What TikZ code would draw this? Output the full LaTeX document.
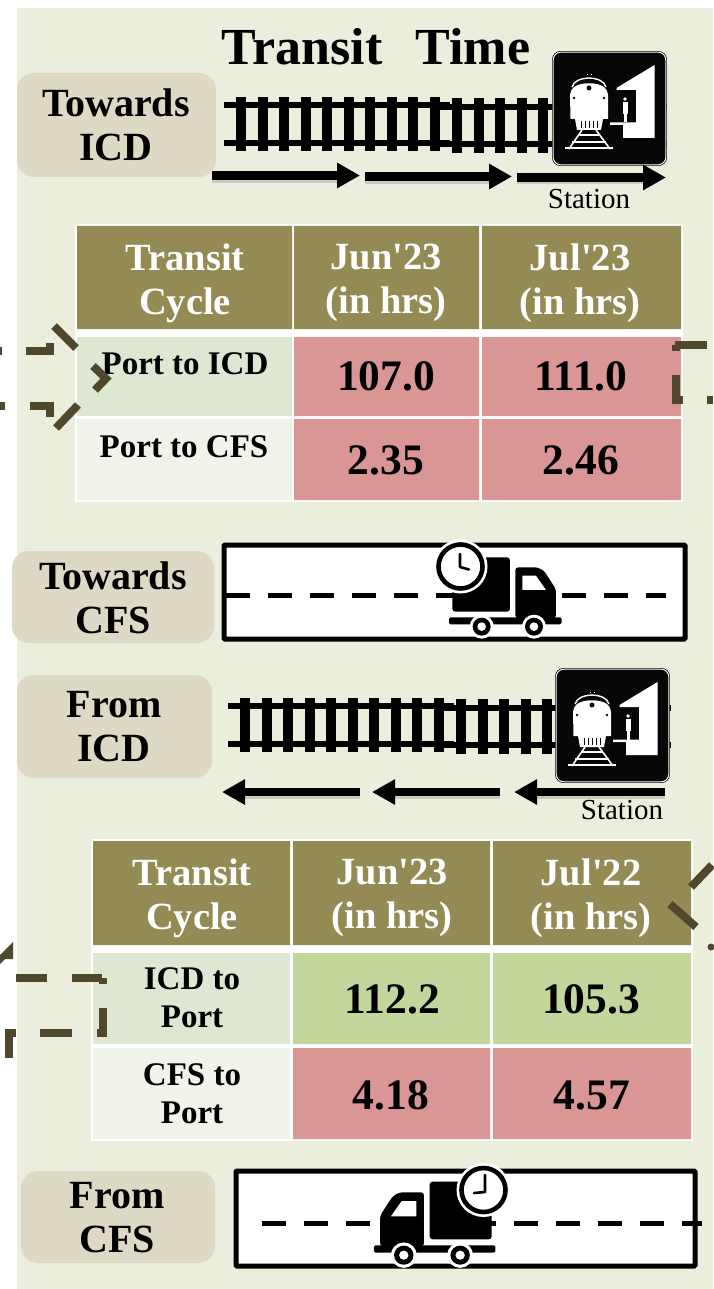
\documentclass[tikz,border=0pt]{standalone}
\usepackage{fontspec}
\setmainfont{Liberation Serif}[Ligatures=TeXOff]
\usetikzlibrary{arrows.meta}
\definecolor{panel}{HTML}{EBEEDD}
\definecolor{lab}{HTML}{DDD9C4}
\definecolor{head}{HTML}{948A54}
\definecolor{rowa}{HTML}{DEE7D1}
\definecolor{rowb}{HTML}{EFF3E9}
\definecolor{pink}{HTML}{D99694}
\definecolor{grn}{HTML}{C3D69B}
\definecolor{dashc}{HTML}{4F482C}
\definecolor{signk}{HTML}{060808}
\newcommand{\fsz}[2]{\fontsize{#1}{#2}\selectfont}
\tikzset{
  x=1pt,y=-1pt,
  labelbox/.style={fill=lab,rounded corners=17pt},
  labeltext/.style={font=\bfseries\fsz{40}{44},align=center,inner sep=0pt,text=black},
  headtext/.style={font=\bfseries\fsz{38.5}{44},align=center,inner sep=0pt,text=white},
  rowtext/.style={font=\bfseries\fsz{33}{38},align=center,inner sep=0pt,text=black},
  numtext/.style={font=\bfseries\fsz{43.5}{46},inner sep=0pt,text=black},
  stationtext/.style={font=\fsz{29}{30},inner sep=0pt,text=black},
  dashpiece/.style={draw=dashc,line width=8pt},
  flowarrow/.style={draw=black,line width=8.5pt,-{Triangle[length=23pt,width=24pt]},shorten >=0pt},
  arrowshade/.style={draw=black!45,opacity=.35,line width=8.5pt},
  roadline/.style={draw=black,line width=5pt,dash pattern=on 24pt off 18pt},
  roadbox/.style={draw=black,fill=white,line width=5pt,rounded corners=1pt},
  railline/.style={draw=black,line width=6pt},
  tieline/.style={draw=black,line width=10pt},
}
% railway: rails and sleepers
\newcommand{\railway}[2]{%
\begin{scope}[shift={(#1,#2)}]
  \draw[railline] (224,105) -- (450,105) (224,143) -- (450,143);
  \draw[railline] (440,107) -- (667,107) (440,144) -- (667,144);
  \foreach \t in {241,262.5,284,305.5,327,348.5,370,391.5,413,434.5}
    \draw[tieline] (\t,97) -- (\t,151);
  \foreach \t in {457,478.5,500,521.5,543}
    \draw[tieline] (\t,98) -- (\t,153);
\end{scope}}
% station sign, local px from sign's top-left corner
\newcommand{\stationsign}[2]{%
\begin{scope}[shift={(#1,#2)}]
  \draw[white,fill=signk,line width=1.2pt,rounded corners=8pt] (0,0) rectangle (113,113);
  \draw[signk,line width=.6pt,rounded corners=8pt] (-.6,-.6) rectangle (113.6,113.6);
  % train
  \fill[white] (17.5,67) -- (17,43) .. controls (18,38) and (19,37) .. (21,35) .. controls (28,30) and (44,30) .. (51,35) .. controls (53,37) and (54,38) .. (55,43) -- (55,67) -- cycle;
  \draw[white,line width=1.4pt] (19,35) .. controls (21,29) and (27,26.5) .. (36,26) .. controls (45,26.5) and (51,29) .. (53,35);
  \draw[white,line width=1pt] (33.5,23) -- (34.5,23) (37.5,23) -- (38.5,23);
  \fill[signk] (36,36) circle (2.5);
  \fill[signk] (21,46) circle (1.4) (51,46) circle (1.4);
  \fill[white] (22,67) -- (50,67) -- (48,78) -- (24,78) -- cycle;
  \foreach \t in {28,32,36,40,44} \draw[signk,line width=.9pt] (\t,69) -- (\t,76);
  \draw[white,line width=1.6pt] (29,78) -- (16,97) (43,78) -- (57,97);
  \draw[white,line width=1.8pt] (26,83) -- (46,83) (19,90) -- (53,90) (12,96) -- (60,96);
  % platform and building
  \fill[white] (63.5,36) -- (101.5,13) -- (101.5,86) -- (70,86) -- (70,73) -- (57,73) -- (57,70.5) -- (83,70.5) -- (83,38) -- (63.5,38) -- cycle;
  \fill[white] (72,47) circle (1.8);
  \fill[white] (69.5,50) rectangle (74.5,62);
  \fill[white] (70.5,62) rectangle (73.5,70.5);
\end{scope}}
% truck in units of 1/3 px
\newcommand{\truck}[4]{%
\begin{scope}[shift={(#1,#2)},xscale=#3,yscale=#4]
  \fill[black,rounded corners=3pt] (157,245) -- (157,82) -- (330,82) -- (330,245) -- cycle;
  \fill[black,rounded corners=3pt] (346,265) -- (346,112) -- (412,112) -- (432,122) -- (468,178) -- (468,265) -- cycle;
  \fill[white] (367,137) -- (408,137) -- (438,180) -- (367,180) -- cycle;
  \fill[black,rounded corners=1.5pt] (147,262) rectangle (485,283);
  \foreach \c in {245,402} {
    \fill[white] (\c,290) circle (36);
    \fill[black] (\c,290) circle (27);
    \fill[white] (\c,290) circle (13);
  }
\end{scope}}
\newcommand{\clockface}[2]{%
\begin{scope}[shift={(#1,#2)}]
  \fill[white] (0,0) circle (27);
  \draw[black,fill=white,line width=4.6pt] (0,0) circle (22);
\end{scope}}
\begin{document}
\begin{tikzpicture}
\useasboundingbox (0,0) rectangle (713,1289);
\fill[white] (0,0) rectangle (713,1289);
\fill[panel] (17,8) rectangle (713,1289);

% ---------- top: towards ICD
\node[font=\bfseries\fsz{52}{54},inner sep=0pt,anchor=center] (title) at (376,47) {Transit\hspace{33pt}Time};
\path[labelbox] (17,73) rectangle (216,177);
\node[labeltext] (tICD) at (116,125) {Towards\\ICD};
\railway{0}{0}
\stationsign{553}{52}
\draw[arrowshade] (212,178.5) -- (340,178.5) (365,179.5) -- (490,179.5) (517,180) -- (644,180);
\coordinate (a0) at (212,175.5); \coordinate (a1) at (360,175.5);
\coordinate (a2) at (365,176.5); \coordinate (a3) at (512,176.5);
\coordinate (a4) at (517,177.5); \coordinate (a5) at (666,177.5);
\draw[flowarrow] (a0) -- (a1);
\draw[flowarrow] (a2) -- (a3);
\draw[flowarrow] (a4) -- (a5);
\node[stationtext] (st1) at (589,199) {Station};

% ---------- table 1
\fill[white] (75,224) rectangle (683,502);
\fill[head] (77,226) rectangle (292,329) (294,226) rectangle (479,329) (482,226) rectangle (681,329);
\fill[rowa] (77,337) rectangle (292,416);
\fill[rowb] (77,419) rectangle (292,500);
\fill[pink] (294,337) rectangle (479,416) (482,337) rectangle (681,416)
            (294,419) rectangle (479,500) (482,419) rectangle (681,500);
\node[headtext] (h11) at (185,283) {Transit\\Cycle};
\node[headtext] (h12) at (386,283) {Jun'23\\(in hrs)};
\node[headtext] (h13) at (580,283) {Jul'23\\(in hrs)};
\node[rowtext] (r11) at (185,364) {Port to ICD};
\node[rowtext] (r21) at (184,447) {Port to CFS};
\node[numtext] (n11) at (386,376) {107.0};
\node[numtext] (n12) at (581,376) {111.0};
\node[numtext] (n21) at (386,460) {2.35};
\node[numtext] (n22) at (581,460) {2.46};

% dashed outline around table 1
\draw[dashpiece] (0,350.5) -- (2,350.5);
\draw[dashpiece] (26,350.5) -- (54,350.5);
\draw[dashpiece] (50,354) -- (50,343);
\draw[dashpiece] (54,326) -- (76,348);
\draw[dashpiece] (93,366) -- (106,378.5) -- (95,390);
\draw[dashpiece] (78,405) -- (56,428);
\draw[dashpiece] (50,417) -- (50,405.5) -- (30,405.5);
\draw[dashpiece] (0,405.5) -- (5,405.5);
\draw[dashpiece] (707,344.5) -- (675,344.5);
\draw[dashpiece] (676,345) -- (676,351);
\draw[dashpiece] (675.5,375) -- (675.5,403);
\draw[dashpiece] (672,399.5) -- (683,399.5);
\draw[dashpiece] (707,399.5) -- (713,399.5);

% ---------- towards CFS
\path[labelbox] (12,551) rectangle (214,643);
\node[labeltext] (tCFS) at (113,598) {Towards\\CFS};
\draw[roadbox] (224,545) rectangle (685,639);
\draw[roadline] (226,595) -- (666,595);
\truck{400}{530}{.3333}{.3333}
\clockface{460.5}{566.5}
\draw[black,line width=2.6pt,line cap=round,line join=round] (460,554) -- (460,567) -- (469,569.5);

% ---------- from ICD
\path[labelbox] (17,675) rectangle (212,778);
\node[labeltext] (fICD) at (114,727) {From\\ICD};
\railway{4}{601}
\stationsign{556}{669}
\draw[arrowshade] (360,794.5) -- (240,794.5) (500,794.5) -- (390,794.5) (665,794.5) -- (532,794.5);
\coordinate (b0) at (360,792); \coordinate (b1) at (222,792);
\coordinate (b2) at (500,792); \coordinate (b3) at (372,792);
\coordinate (b4) at (665,792); \coordinate (b5) at (514,792);
\draw[flowarrow] (b0) -- (b1);
\draw[flowarrow] (b2) -- (b3);
\draw[flowarrow] (b4) -- (b5);
\node[stationtext] (st2) at (622,810) {Station};

% ---------- table 2
\fill[white] (91,839) rectangle (693,1141);
\fill[head] (93,841) rectangle (290,945) (293,841) rectangle (490,945) (493,841) rectangle (691,945);
\fill[rowa] (93,953) rectangle (290,1044);
\fill[rowb] (93,1048) rectangle (290,1139);
\fill[grn] (293,953) rectangle (490,1044) (493,953) rectangle (691,1044);
\fill[pink] (293,1048) rectangle (490,1139) (493,1048) rectangle (691,1139);
\node[headtext] (h21) at (192,898) {Transit\\Cycle};
\node[headtext] (h22) at (392,898) {Jun'23\\(in hrs)};
\node[headtext] (h23) at (591,898) {Jul'22\\(in hrs)};
\node[rowtext] (r31) at (192,998) {ICD to\\Port};
\node[rowtext] (r41) at (192,1094) {CFS to\\Port};
\node[numtext] (n31) at (392,999) {112.2};
\node[numtext] (n32) at (591,999) {105.3};
\node[numtext] (n41) at (391,1095) {4.18};
\node[numtext] (n42) at (592,1095) {4.57};

% dashed outline around table 2
\fill[dashc] (0,955) -- (13,942) -- (13,959) -- (5,959) -- (0,964) -- cycle;
\draw[dashpiece] (16,978) -- (47,978);
\draw[dashpiece] (72,978) -- (102,978);
\fill[dashc] (99,978) rectangle (107,984);
\draw[dashpiece] (103,1008) -- (103,1033) -- (97,1033);
\draw[dashpiece] (40,1033) -- (72,1033);
\draw[dashpiece] (16,1033) -- (9,1033) -- (9,1058);
\draw[dashpiece] (691,887) -- (712,865);
\draw[dashpiece] (670,904) -- (696,927);
\fill[dashc] (711,947) circle (3.5);

% ---------- from CFS
\path[labelbox] (21,1171) rectangle (215,1263);
\node[labeltext] (fCFS) at (117,1218) {From\\CFS};
\draw[roadbox] (236,1171) rectangle (695,1266);
\draw[roadline] (262,1223) -- (702,1223);
\truck{548.1}{1152.7}{-.359}{.3533}
\clockface{483.5}{1190}
\draw[black,line width=2.6pt,line cap=round,line join=round] (485,1175) -- (485,1192) -- (474,1193);
\end{tikzpicture}
\end{document}
